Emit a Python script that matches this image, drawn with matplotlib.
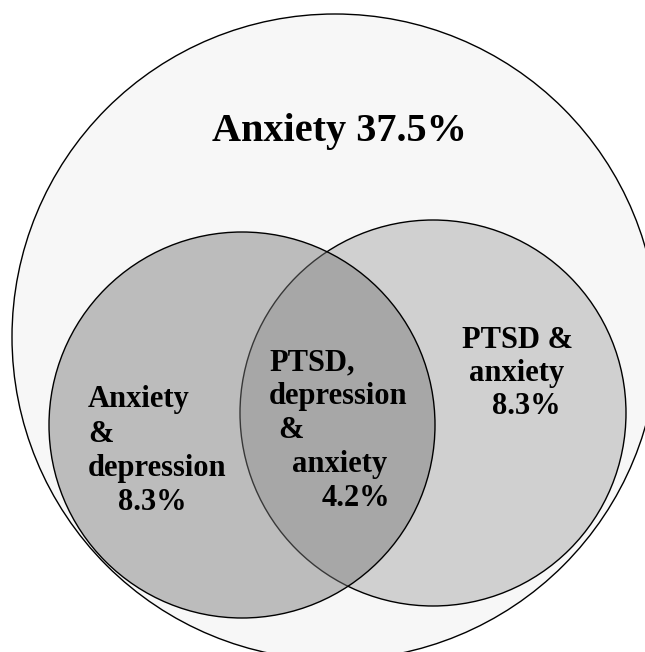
import matplotlib
matplotlib.use("Agg")
import matplotlib.pyplot as plt
from matplotlib.patches import Circle

# set labels (one list of lines per region)
outer_label = "Anxiety 37.5%"
left_lines = ["Anxiety", "&", "depression", "8.3%"]
center_lines = ["PTSD,", "depression", "&", "anxiety", "4.2%"]
right_lines = ["PTSD &", "anxiety", "8.3%"]

# circle geometry in pixel coords (x, y, r)
outer_circle = (335, 337, 323)
left_circle = (242, 425, 193)
right_circle = (433, 413, 193)

# left edge of each text line
left_x = [88, 88, 88, 118]
center_x = [269, 269, 278, 292, 322]
right_x = [462, 469, 492]

fig = plt.figure(figsize=(6.45, 6.52), dpi=100)
ax = fig.add_axes([0, 0, 1, 1])
ax.set_xlim(0, 645)
ax.set_ylim(652, 0)
ax.set_aspect("equal")
ax.axis("off")

ax.add_patch(Circle(outer_circle[:2], outer_circle[2], facecolor="#f7f7f7",
                    edgecolor="black", linewidth=1.0))
ax.add_patch(Circle(right_circle[:2], right_circle[2], facecolor="#d0d0d0",
                    edgecolor="black", linewidth=1.0))
ax.add_patch(Circle(left_circle[:2], left_circle[2],
                    facecolor=(0.476, 0.476, 0.476, 0.462),
                    edgecolor="black", linewidth=1.0))

font = dict(family="Liberation Serif", fontweight="bold", color="black")

ax.text(339, 141, outer_label, fontsize=29, ha="center", va="baseline", **font)


def put_lines(lines, xs, y0, step):
    for i, line in enumerate(lines):
        ax.text(xs[i], y0 + i * step, line, fontsize=22, ha="left",
                va="baseline", **font)


put_lines(left_lines, left_x, 407, 34.5)
put_lines(center_lines, center_x, 370, 34)
put_lines(right_lines, right_x, 348, 33)

fig.savefig("out.png", dpi=100, facecolor="white")
